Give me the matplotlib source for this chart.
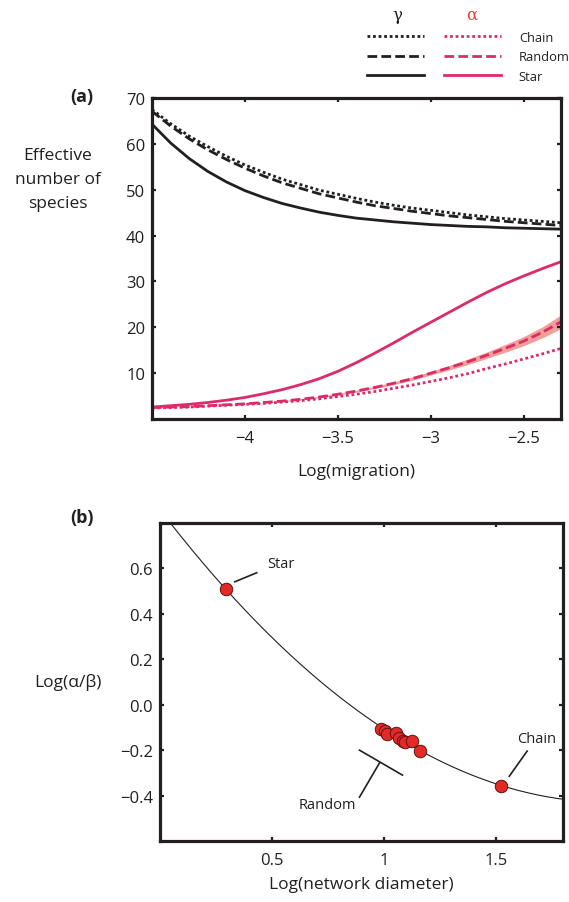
import numpy as np
import matplotlib
matplotlib.use("Agg")
import matplotlib.pyplot as plt
from matplotlib.legend_handler import HandlerTuple

plt.rcParams['font.family'] = ['Open Sans', 'DejaVu Sans']

# ---------------- Panel (a) data ----------------
log_migration = [-4.5, -4.4, -4.3, -4.2, -4.1, -4.0, -3.9, -3.8, -3.7, -3.6, -3.5, -3.4,
                 -3.3, -3.2, -3.1, -3.0, -2.9, -2.8, -2.7, -2.6, -2.5, -2.4, -2.3]
gamma_chain = [67.5, 64.4, 61.7, 59.4, 57.3, 55.4, 53.8, 52.3, 51.1, 49.9, 49.0, 48.1,
               47.3, 46.6, 46.0, 45.5, 45.0, 44.5, 44.1, 43.7, 43.4, 43.1, 42.8]
gamma_random = [67.1, 63.9, 61.1, 58.7, 56.6, 54.7, 53.0, 51.5, 50.3, 49.1, 48.2, 47.3,
                46.5, 45.9, 45.3, 44.8, 44.3, 43.9, 43.5, 43.1, 42.8, 42.5, 42.2]
gamma_star = [64.3, 60.2, 56.8, 54.0, 51.7, 49.8, 48.3, 47.0, 46.0, 45.1, 44.4, 43.8,
              43.4, 43.0, 42.7, 42.4, 42.2, 42.0, 41.9, 41.7, 41.6, 41.5, 41.4]
alpha_chain = [2.4, 2.5, 2.6, 2.8, 3.0, 3.2, 3.4, 3.7, 4.0, 4.4, 4.9, 5.4,
               6.0, 6.7, 7.4, 8.2, 9.0, 9.9, 11.0, 12.0, 13.1, 14.2, 15.4]
alpha_random = [2.5, 2.6, 2.7, 2.9, 3.1, 3.3, 3.6, 3.9, 4.3, 4.8, 5.4, 6.1,
                6.9, 7.8, 8.8, 10.0, 11.2, 12.5, 13.9, 15.4, 17.0, 18.9, 21.2]
alpha_random_err = [0.0, 0.0, 0.0, 0.0, 0.0, 0.05, 0.05, 0.1, 0.1, 0.15, 0.2, 0.2,
                    0.25, 0.3, 0.35, 0.4, 0.5, 0.6, 0.7, 0.85, 1.0, 1.2, 1.5]
alpha_star = [2.6, 2.9, 3.2, 3.6, 4.1, 4.7, 5.5, 6.4, 7.5, 8.8, 10.4, 12.3,
              14.4, 16.6, 18.9, 21.1, 23.3, 25.5, 27.6, 29.5, 31.2, 32.8, 34.3]

# ---------------- Panel (b) data ----------------
diam_log = [0.294, 0.988, 1.003, 1.013, 1.052, 1.066, 1.084, 1.096, 1.126, 1.163, 1.525]
ab_log = [0.510, -0.107, -0.116, -0.129, -0.125, -0.148, -0.159, -0.166, -0.159, -0.203, -0.360]

BLACK = '#231f20'
PINK = '#dd2a6a'
BAND = '#f0968c'
RED = '#e22b27'

W, H = 569, 903
fig = plt.figure(figsize=(W / 100, H / 100), dpi=100)

def style_axes(ax):
    for s in ax.spines.values():
        s.set_linewidth(2.3)
        s.set_color(BLACK)
    ax.tick_params(direction='in', length=3, width=1.6, top=True, right=True,
                   labelsize=12, colors=BLACK, pad=5)
    ax.tick_params(axis='x', pad=8)

# ---------- (a) ----------
axa = fig.add_axes([152 / W, 1 - 420 / H, (561 - 152) / W, (420 - 99) / H])
x = np.array(log_migration)
lw = 2.0
axa.fill_between(x, np.array(alpha_random) - np.array(alpha_random_err),
                 np.array(alpha_random) + np.array(alpha_random_err),
                 color=BAND, lw=0, alpha=0.9)
l_gc, = axa.plot(x, gamma_chain, color=BLACK, lw=lw, ls=(0, (1, 1)))
l_gr, = axa.plot(x, gamma_random, color=BLACK, lw=lw, ls=(0, (3.5, 1.5)))
l_gs, = axa.plot(x, gamma_star, color=BLACK, lw=lw, ls='-')
l_ac, = axa.plot(x, alpha_chain, color=PINK, lw=lw, ls=(0, (1, 1)))
l_ar, = axa.plot(x, alpha_random, color=PINK, lw=lw, ls=(0, (3.5, 1.5)))
l_as, = axa.plot(x, alpha_star, color=PINK, lw=lw, ls='-')
axa.set_xlim(-4.5, -2.3)
axa.set_ylim(0, 70)
axa.set_xticks([-4, -3.5, -3, -2.5])
axa.set_xticklabels(['\u22124', '\u22123.5', '\u22123', '\u22122.5'])
axa.set_yticks([10, 20, 30, 40, 50, 60, 70])
style_axes(axa)
axa.set_xlabel('Log(migration)', fontsize=12.5, labelpad=12, color=BLACK)
fig.text(58 / W, 1 - 180 / H, 'Effective\nnumber of\nspecies', ha='center', va='center',
         fontsize=12.5, linespacing=1.7, color=BLACK)
fig.text(82 / W, 1 - 97 / H, '(a)', ha='center', va='center', fontsize=13,
         fontweight='bold', color=BLACK)

# legend
leg = fig.legend([(l_gc, l_ac), (l_gr, l_ar), (l_gs, l_as)], ['Chain', 'Random', 'Star'],
                 handler_map={tuple: HandlerTuple(ndivide=None, pad=1.5)},
                 loc='upper left', bbox_to_anchor=(367 / W, 1 - 32 / H),
                 frameon=False, fontsize=9.3, handlelength=10.4, handletextpad=1.35,
                 labelspacing=0.5, borderpad=0, borderaxespad=0)
for t in leg.get_texts():
    t.set_color(BLACK)
fig.text(397 / W, 1 - 15 / H, '\u03b3', ha='center', va='center', fontsize=12,
         color=BLACK, family='DejaVu Serif')
fig.text(472 / W, 1 - 15 / H, '\u03b1', ha='center', va='center', fontsize=12,
         color='#e8403a', family='DejaVu Serif')

# ---------- (b) ----------
axb = fig.add_axes([160 / W, 1 - 842 / H, (563 - 160) / W, (842 - 524) / H])
coef = np.polyfit(diam_log, ab_log, 2)
xs = np.linspace(0, 1.8, 300)
axb.plot(xs, np.polyval(coef, xs), color=BLACK, lw=0.8)
axb.plot(diam_log, ab_log, 'o', ms=9, mfc=RED, mec='#5a1512', mew=0.7, zorder=3)
axb.set_xlim(0, 1.8)
axb.set_ylim(-0.6, 0.8)
axb.set_xticks([0.5, 1, 1.5])
axb.set_xticklabels(['0.5', '1', '1.5'])
axb.set_yticks([-0.4, -0.2, 0.0, 0.2, 0.4, 0.6])
axb.set_yticklabels(['\u22120.4', '\u22120.2', '0.0', '0.2', '0.4', '0.6'])
style_axes(axb)
axb.set_xlabel('Log(network diameter)', fontsize=12.5, labelpad=6, color=BLACK)
fig.text(68 / W, 1 - 683 / H, 'Log(\u03b1/\u03b2)', ha='center', va='center',
         fontsize=12.5, color=BLACK)
fig.text(82 / W, 1 - 518 / H, '(b)', ha='center', va='center', fontsize=13,
         fontweight='bold', color=BLACK)

# annotations
axb.plot([0.334, 0.432], [0.541, 0.581], color=BLACK, lw=1.2)
axb.text(0.477, 0.621, 'Star', fontsize=10.5, ha='left', va='center', color=BLACK)
axb.plot([1.560, 1.640], [-0.315, -0.204], color=BLACK, lw=1.2)
axb.text(1.594, -0.147, 'Chain', fontsize=10.5, ha='left', va='center', color=BLACK)
axb.plot([0.891, 1.083], [-0.200, -0.310], color=BLACK, lw=1.2)
axb.plot([0.980, 0.891], [-0.257, -0.407], color=BLACK, lw=1.2)
axb.text(0.749, -0.438, 'Random', fontsize=10.5, ha='center', va='center', color=BLACK)

fig.savefig('out.png', dpi=100)
